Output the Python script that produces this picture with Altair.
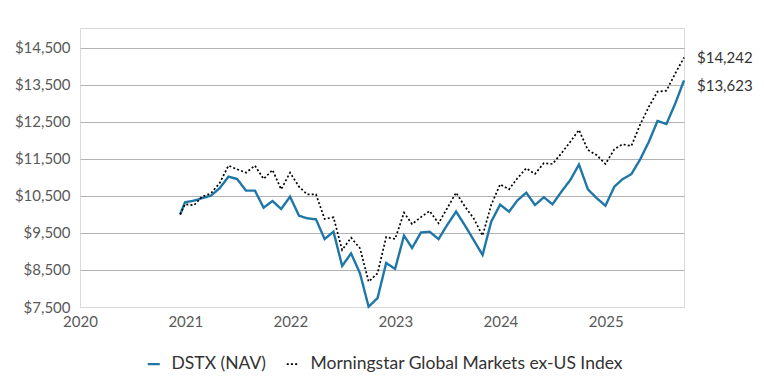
import altair as alt
import pandas as pd

series_names = ["DSTX (NAV)", "Morningstar Global Markets ex-US Index"]

# inception date then month-end dates
dates = ["2020-12-14"] + [d.strftime("%Y-%m-%d") for d in pd.date_range("2020-12-31", "2025-09-30", freq="ME")]

dstx = [10000, 10330, 10373, 10440, 10509, 10708, 11022, 10960, 10644, 10644,
        10184, 10365, 10149, 10481, 9968, 9897, 9870, 9338, 9535, 8608,
        8950, 8410, 7508, 7740, 8690, 8530, 9430, 9095, 9515, 9535,
        9335, 9716, 10080, 9700, 9311, 8906, 9806, 10265, 10076, 10380,
        10590, 10257, 10465, 10276, 10617, 10933, 11350, 10681, 10445, 10238,
        10752, 10952, 11090, 11480, 11968, 12528, 12446, 13006, 13623]

index_vals = [10000, 10276, 10249, 10481, 10573, 10843, 11320, 11222, 11130, 11320,
              10960, 11203, 10681, 11130, 10752, 10546, 10546, 9879, 9924, 9041,
              9373, 9087, 8184, 8410, 9390, 9338, 10049, 9740, 9930, 10095,
              9762, 10168, 10590, 10211, 9897, 9430, 10257, 10816, 10681, 10979,
              11249, 11095, 11390, 11365, 11654, 11968, 12284, 11744, 11608, 11365,
              11762, 11897, 11852, 12419, 12914, 13320, 13347, 13817, 14242]

y_ticks = [7500, 8500, 9500, 10500, 11500, 12500, 13500, 14500]
x_years = [2020, 2021, 2022, 2023, 2024, 2025]

df = pd.DataFrame({
    "date": dates * 2,
    "value": dstx + index_vals,
    "series": [series_names[0]] * len(dates) + [series_names[1]] * len(dates),
})

end_df = pd.DataFrame({
    "date": [dates[-1], dates[-1]],
    "value": [dstx[-1], index_vals[-1]],
    "series": series_names,
    "label": ["$" + format(dstx[-1], ","), "$" + format(index_vals[-1], ",")],
})

FONT = "Lato"
x_scale = alt.Scale(domain=[alt.DateTime(year=2020, month=1, date=1, utc=True),
                            alt.DateTime(year=2025, month=9, date=30, utc=True)])
y_scale = alt.Scale(domain=[7500, 15040], nice=False, zero=False)

x_axis = alt.Axis(values=[alt.DateTime(year=y, month=1, date=1, utc=True) for y in x_years],
                  format="%Y", formatType="utc", title=None, grid=False, labelPadding=7,
                  labelFlush=False, labelOverlap=False, tickCount=20)
y_axis = alt.Axis(values=y_ticks, format="$,.0f", title=None, labelPadding=10,
                  labelOverlap=False, labelFlush=False, tickCount=20,
                  gridColor={"condition": {"test": "datum.value === 7500", "value": "#d9d9d9"},
                             "value": "#b3b3b3"})

legend = alt.Legend(title=None, orient="none", legendX=65, legendY=327, direction="horizontal",
                    symbolType="stroke", symbolSize=144, symbolStrokeWidth=3,
                    labelFont=FONT, labelFontSize=17.5, labelColor="#333333",
                    labelOffset=9, columnPadding=16, padding=0, labelLimit=500)

lines = alt.Chart(df).mark_line().encode(
    x=alt.X("date:T", scale=x_scale, axis=x_axis),
    y=alt.Y("value:Q", scale=y_scale, axis=y_axis),
    color=alt.Color("series:N", scale=alt.Scale(domain=series_names, range=["#1f77a8", "#000000"]),
                    legend=legend),
    strokeDash=alt.StrokeDash("series:N", scale=alt.Scale(domain=series_names, range=[[1, 0], [2, 2.2]]),
                              legend=legend),
    strokeWidth=alt.StrokeWidth("series:N", scale=alt.Scale(domain=series_names, range=[2.4, 1.7]),
                                legend=None),
)

label_base = alt.Chart(end_df).encode(
    x=alt.X("date:T", scale=x_scale, axis=x_axis),
    y=alt.Y("value:Q", scale=y_scale, axis=y_axis),
    text="label:N",
)
lab_dstx = label_base.transform_filter(alt.datum.series == series_names[0]).mark_text(
    align="left", baseline="middle", dx=13, dy=6, font=FONT, fontSize=15, color="#333333")
lab_idx = label_base.transform_filter(alt.datum.series == series_names[1]).mark_text(
    align="left", baseline="middle", dx=13, dy=0, font=FONT, fontSize=15, color="#333333")

chart = alt.layer(lines, lab_dstx, lab_idx).properties(
    width=604, height=279,
    autosize=alt.AutoSizeParams(type="none"),
    padding={"left": 72, "top": 20, "right": 72, "bottom": 75},
).configure_view(stroke="#d9d9d9", strokeWidth=1).configure_axis(
    labelFont=FONT, labelFontSize=15, labelColor="#595959",
    domain=False, ticks=False, gridWidth=1,
)

chart.save("out.html", embed_options={"renderer": "svg", "actions": False})
